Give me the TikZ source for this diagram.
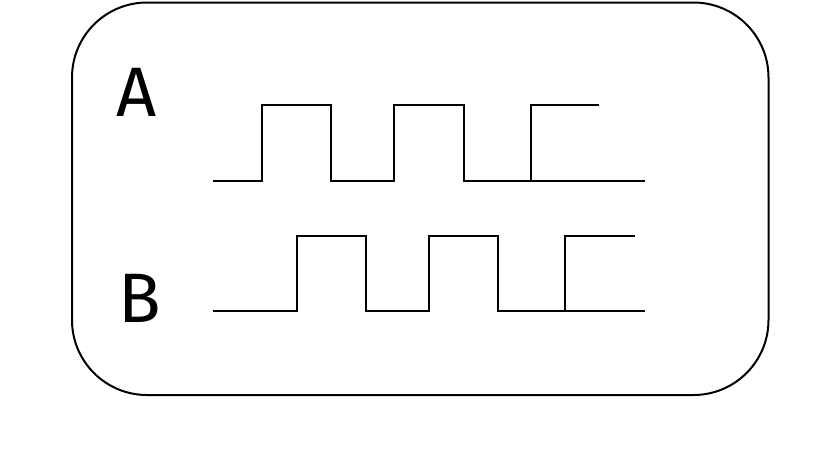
\documentclass[tikz,border=0pt]{standalone}
\usepackage{fontspec}
\setmainfont{Fira Sans}
\usepackage{tikz}

\begin{document}
\begin{tikzpicture}[x=1pt,y=-1pt,join=miter,line width=2pt]
         \useasboundingbox (0,0) rectangle (840,475);
         \draw[rounded corners=75pt](72,2.5) rectangle (768.5,395);
         % signal A
         \draw(213,181)--(262,181)--(262,105)--(331,105)--(331,181)--(394,181)--(394,105)--(464,105)--(464,181)--(531,181)--(645,181);
         \draw(531,181)--(531,105)--(599,105);
         % signal B
         \draw(213,311)--(297,311)--(297,236)--(366,236)--(366,311)--(429,311)--(429,236)--(498,236)--(498,311)--(565,311)--(645,311);
         \draw(565,311)--(565,236)--(635,236);
         \fill[black,font=\fontsize{70}{70}\selectfont]
                (137,116) node [anchor=base] (labA) {A}
                (139.5,322) node [anchor=base] (labB) {B};
    \end{tikzpicture}
\end{document}
